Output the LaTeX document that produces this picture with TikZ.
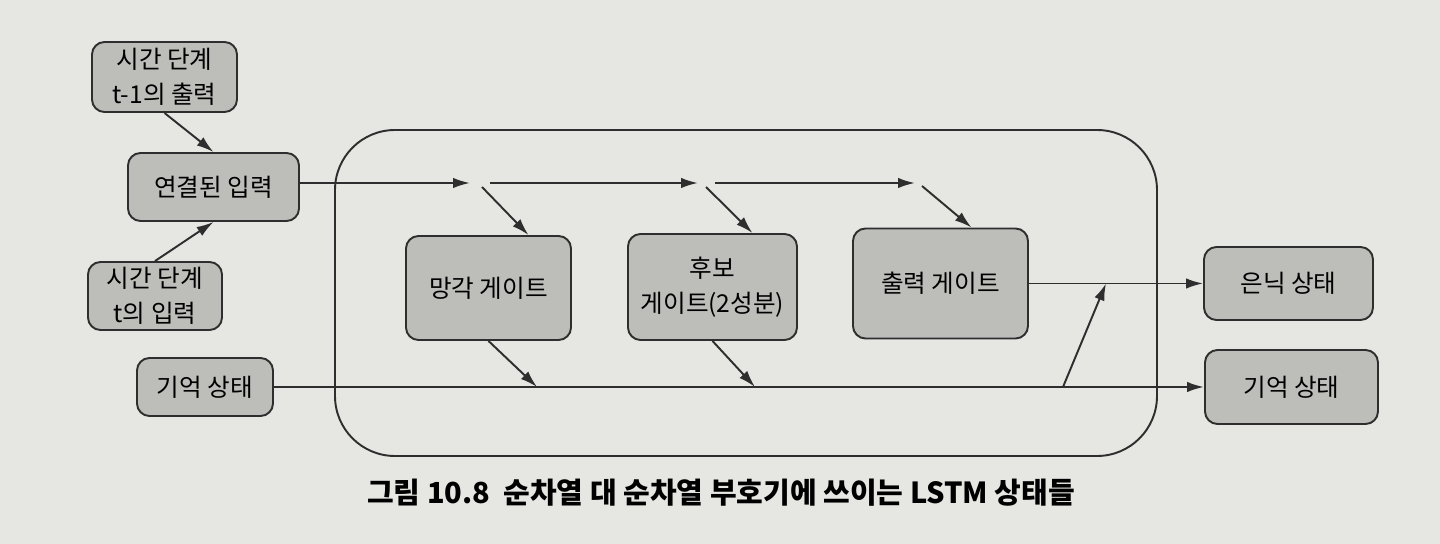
\documentclass[tikz,border=0pt]{standalone}
\usepackage{fontspec}
\setmainfont{Noto Sans CJK KR}
\usetikzlibrary{arrows.meta}
\definecolor{page}{HTML}{E6E6E3}
\definecolor{boxgray}{HTML}{BDBDBA}
\definecolor{ink}{HTML}{2E2E2E}

\begin{document}
\begin{tikzpicture}[
  state/.style={draw=ink, fill=boxgray, line width=1.1pt, rounded corners=0.25cm,
    align=center, inner sep=0pt, font=\fontsize{14}{20}\selectfont},
  wire/.style={draw=ink, line width=1.1pt},
  flow/.style={wire, -{Latex[length=3.4mm,width=2.1mm]}}
]
\fill[page] (0,0) rectangle (28.8,10.88);

\node[draw=ink, line width=1.1pt, rounded corners=1.2cm, minimum width=16.44cm,
  minimum height=6.52cm] (cell) at (14.92,5.02) {};

\node[state, minimum width=2.9cm, minimum height=1.4cm] (prevout) at (3.29,9.34) {시간 단계\\t-1의 출력};
\node[state, minimum width=3.42cm, minimum height=1.36cm] (concat) at (4.27,7.14) {연결된 입력};
\node[state, minimum width=2.68cm, minimum height=1.36cm] (curin) at (3.10,4.96) {시간 단계\\t의 입력};
\node[state, minimum width=2.72cm, minimum height=1.16cm] (memin) at (4.10,3.14) {기억 상태};

\node[state, minimum width=3.3cm, minimum height=2.08cm] (forget) at (9.77,5.12) {망각 게이트};
\node[state, minimum width=3.38cm, minimum height=2.12cm] (cand) at (14.25,5.14) {후보\\게이트(2성분)};
\node[state, minimum width=3.5cm, minimum height=2.2cm] (outgate) at (18.81,5.21) {출력 게이트};

\node[state, minimum width=3.38cm, minimum height=1.46cm] (hidden) at (25.77,5.21) {은닉 상태};
\node[state, minimum width=3.46cm, minimum height=1.48cm] (memout) at (25.83,3.14) {기억 상태};

\coordinate (j1in) at (9.4,7.22);
\coordinate (j1out) at (9.8,7.22);
\coordinate (j1dn) at (9.64,7.14);
\coordinate (j2in) at (13.96,7.22);
\coordinate (j2out) at (14.3,7.22);
\coordinate (j2dn) at (14.12,7.14);
\coordinate (j3in) at (18.3,7.22);
\coordinate (j3dn) at (18.44,7.16);
\coordinate (m1) at (10.74,3.14);
\coordinate (m2) at (15.1,3.14);
\coordinate (mup) at (21.26,3.14);
\coordinate (hup) at (22.12,5.21);

\draw[flow] (prevout.south) -- (concat.north);
\draw[flow] (curin.north) -- (concat.south);

\draw[flow] (concat.east |- j1in) -- (j1in);
\draw[flow] (j1out) -- (j2in);
\draw[flow] (j2out) -- (j3in);
\draw[flow] (j1dn) -- ([xshift=0.8cm]forget.north);
\draw[flow] (j2dn) -- ([xshift=0.8cm]cand.north);
\draw[flow] (j3dn) -- ([xshift=0.62cm]outgate.north);

\draw[flow] (forget.south) -- (m1);
\draw[flow] (cand.south) -- (m2);
\draw[flow] (memin) -- (memout);
\draw[flow] (mup) -- (hup);
\draw[flow] (outgate) -- (hidden);

\node[font=\fontsize{16.5}{19}\selectfont\bfseries] (caption) at (14.42,1.02)
  {그림 10.8\ \ 순차열 대 순차열 부호기에 쓰이는 LSTM 상태들};

\end{tikzpicture}
\end{document}
